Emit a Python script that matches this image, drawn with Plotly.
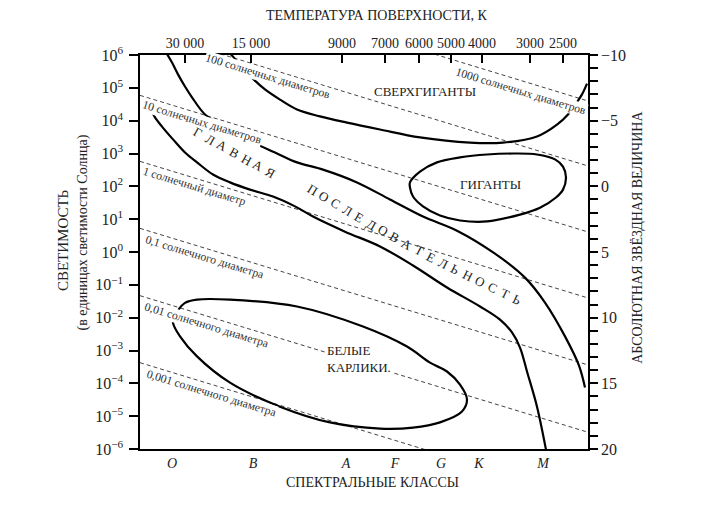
import numpy as np
import plotly.graph_objects as go

# horizontal axis is schematic: position 0..448 across the plot
spectral_classes = ["O", "B", "A", "F", "G", "K", "M"]
spectral_pos = [32, 113, 206, 255, 301, 339, 403]
temp_labels = ["30 000", "15 000", "9000", "7000", "6000", "5000", "4000", "3000", "2500"]
temp_pos = [45, 111, 202, 245, 279, 311, 342, 390, 423]
lum_exp = list(range(-6, 7))
mag_ticks = [-10, -5, 0, 5, 10, 15, 20]

# lines of constant radius (log L at left and right edges)
radius_names = ["1000 солнечных диаметров", "100 солнечных диаметров", "10 солнечных диаметров",
                "1 солнечный диаметр", "0,1 солнечного диаметра", "0,01 солнечного диаметра",
                "0,001 солнечного диаметра"]
radius_left = [8.76, 6.78, 4.77, 2.76, 0.72, -1.33, -3.37]
radius_right = [4.60, 2.62, 0.61, -1.40, -3.44, -5.49, -7.53]
radius_label_x = [381, 128, 62, 54, 65, 67, 71]
radius_label_y = [4.89, 5.35, 3.94, 2.00, -0.17, -2.24, -4.31]

# region outlines (x position, log L)
ms_upper_x = [26, 32, 38, 45, 52, 65, 82, 100, 113, 135, 157, 183, 217, 250, 283, 317, 355, 385, 405, 425, 439, 445]
ms_upper_y = [6.08, 5.77, 5.41, 5.04, 4.71, 4.19, 3.85, 3.52, 3.33, 3.03, 2.73, 2.51, 2.12, 1.60, 1.08, 0.65,
              -0.05, -0.78, -1.54, -2.57, -3.46, -4.13]
ms_lower_x = [12, 15, 22, 33, 45, 57, 73, 90, 110, 133, 155, 173, 205, 240, 273, 307, 340, 360, 372, 380, 387, 397, 406]
ms_lower_y = [4.28, 4.10, 3.82, 3.43, 3.03, 2.73, 2.36, 2.12, 1.90, 1.69, 1.39, 1.08, 0.62, 0.17, -0.41, -1.08,
              -1.66, -2.06, -2.45, -2.91, -3.64, -4.71, -6.02]
sg_x = [89, 93, 98, 105, 113, 125, 140, 157, 180, 207, 240, 280, 330, 363, 397, 417, 428, 436, 442, 447]
sg_y = [6.08, 5.95, 5.77, 5.56, 5.28, 4.95, 4.64, 4.34, 4.13, 3.94, 3.73, 3.49, 3.33, 3.33, 3.52, 3.88,
        4.19, 4.52, 4.80, 5.13]
giants_x = [270, 280, 297, 320, 347, 375, 397, 415, 423, 426, 423, 416, 400, 380, 347, 320, 300, 283, 273, 270, 270]
giants_y = [2.12, 2.45, 2.73, 2.88, 2.97, 3.00, 2.97, 2.82, 2.60, 2.27, 1.90, 1.66, 1.35, 1.14, 0.93, 0.96,
            1.11, 1.39, 1.69, 1.96, 2.12]
wd_x = [37, 45, 57, 90, 157, 223, 267, 290, 307, 320, 327, 322, 300, 273, 240, 190, 140, 90, 57, 40, 33, 35]
wd_y = [-1.82, -1.55, -1.45, -1.45, -1.66, -2.27, -2.88, -3.37, -3.64, -4.04, -4.49, -4.86, -5.19, -5.35, -5.38,
        -5.19, -4.71, -3.98, -3.18, -2.57, -2.15, -1.84]

# spaced lettering of the main sequence label: start, middle and end of its path
word1 = "ГЛАВНАЯ"
word1_px = [58, 130]
word1_py = [3.64, 2.42]
word2 = "ПОСЛЕДОВАТЕЛЬНОСТЬ"
word2_px = [172, 262, 377]
word2_py = [1.90, 0.32, -1.45]

SERIF = "Liberation Serif"
PX_PER_DEC = 394 / 12.0

fig = go.Figure()

xs = np.array([0, 448])
for yl, yr in zip(radius_left, radius_right):
    fig.add_trace(go.Scatter(x=xs, y=[yl, yr], mode="lines",
                             line=dict(color="#444", width=1, dash="4px,3px"), hoverinfo="skip"))

for cx, cy in [(ms_upper_x, ms_upper_y), (ms_lower_x, ms_lower_y), (sg_x, sg_y),
               (giants_x, giants_y), (wd_x, wd_y)]:
    fig.add_trace(go.Scatter(x=cx, y=cy, mode="lines", line=dict(color="black", width=2.2, shape="spline", smoothing=1),
                             hoverinfo="skip"))

# dummy trace so the top/right axes are drawn
fig.add_trace(go.Scatter(x=[0], y=[0], xaxis="x2", yaxis="y2", mode="markers",
                         marker=dict(opacity=0), hoverinfo="skip"))

line_angle = np.degrees(np.arctan((radius_left[0] - radius_right[0]) * PX_PER_DEC / 448))
for name, lx, ly in zip(radius_names, radius_label_x, radius_label_y):
    fig.add_annotation(x=lx, y=ly, text=name, showarrow=False, textangle=line_angle,
                       font=dict(family=SERIF, size=11.7, color="#333"), bgcolor="white", borderpad=0)


def letters(word, px, py):
    # spread letters evenly along a smooth path through the given points
    px = np.array(px, float)
    py = -np.array(py, float) * PX_PER_DEC
    p = np.polyfit(px, py, len(px) - 1)
    fx = np.linspace(px[0], px[-1], 400)
    fy = np.polyval(p, fx)
    s = np.concatenate([[0], np.cumsum(np.hypot(np.diff(fx), np.diff(fy)))])
    t = np.linspace(0, s[-1], len(word))
    lx = np.interp(t, s, fx)
    ly = np.polyval(p, lx)
    ang = np.degrees(np.arctan(np.polyval(np.polyder(p), lx)))
    for ch, x, y, a in zip(word, lx, ly, ang):
        fig.add_annotation(x=x, y=-y / PX_PER_DEC, text=ch, showarrow=False, textangle=a,
                           font=dict(family=SERIF, size=13, color="#222"))


letters(word1, word1_px, word1_py)
letters(word2, word2_px, word2_py)

fig.add_annotation(x=285, y=4.89, text="СВЕРХГИГАНТЫ", showarrow=False,
                   font=dict(family=SERIF, size=13, color="#222"))
fig.add_annotation(x=350, y=2.06, text="ГИГАНТЫ", showarrow=False,
                   font=dict(family=SERIF, size=13, color="#222"))
fig.add_annotation(x=185, y=-3.25, text="БЕЛЫЕ<br>КАРЛИКИ.", showarrow=False, xanchor="left", align="left",
                   font=dict(family=SERIF, size=13, color="#222"), bgcolor="white")

# axis titles
title_font = dict(family=SERIF, size=14, color="#222")
for tx, ty, text, ang, size in [(0.529, 1.10, "ТЕМПЕРАТУРА ПОВЕРХНОСТИ, К", 0, 14),
                                (0.52, -0.084, "СПЕКТРАЛЬНЫЕ КЛАССЫ", 0, 14),
                                (-0.172, 0.53, "СВЕТИМОСТЬ", -90, 15),
                                (-0.127, 0.55, "(в единицах светимости Солнца)", -90, 14),
                                (1.109, 0.538, "АБСОЛЮТНАЯ ЗВЁЗДНАЯ ВЕЛИЧИНА", -90, 14)]:
    fig.add_annotation(xref="paper", yref="paper", x=tx, y=ty, text=text, showarrow=False,
                       xanchor="center", yanchor="middle", textangle=ang,
                       font=dict(family=SERIF, size=size, color="#222"))

tick_font = dict(family=SERIF, size=14, color="#222")
side_font = dict(family=SERIF, size=16, color="#222")
axis_common = dict(showgrid=False, zeroline=False, showline=True, linecolor="black", linewidth=1.5,
                   tickcolor="black", tickwidth=1.5, fixedrange=True, automargin=False)

# the page body adds 8px on the left/top, so the figure is 16px smaller than the window
fig.update_layout(
    width=696, height=489,
    margin=dict(l=132, r=116, t=47, b=48),
    plot_bgcolor="white", paper_bgcolor="white",
    showlegend=False,
    xaxis=dict(range=[0, 448], tickvals=spectral_pos, ticktext=["<i>%s</i>" % c for c in spectral_classes],
               ticks="", tickfont=tick_font, **axis_common),
    xaxis2=dict(range=[0, 448], overlaying="x", side="top", tickvals=temp_pos, ticktext=temp_labels,
                ticks="inside", ticklen=8, tickfont=tick_font, **axis_common),
    yaxis=dict(range=[-6, 6], tickvals=lum_exp,
               ticktext=["10<sup>%s</sup>" % str(e).replace("-", "\u2212") for e in lum_exp],
               ticks="outside", ticklen=9, ticklabelstandoff=3, tickfont=side_font, **axis_common),
    yaxis2=dict(range=[20, -10], overlaying="y", side="right", tickvals=mag_ticks,
                ticktext=[str(m).replace("-", "\u2212") for m in mag_ticks],
                ticks="outside", ticklen=8, tickfont=side_font,
                minor=dict(dtick=1, tick0=0, ticks="outside", ticklen=8, tickwidth=1.5, tickcolor="black"),
                **axis_common),
)

fig.write_html("out.html")
